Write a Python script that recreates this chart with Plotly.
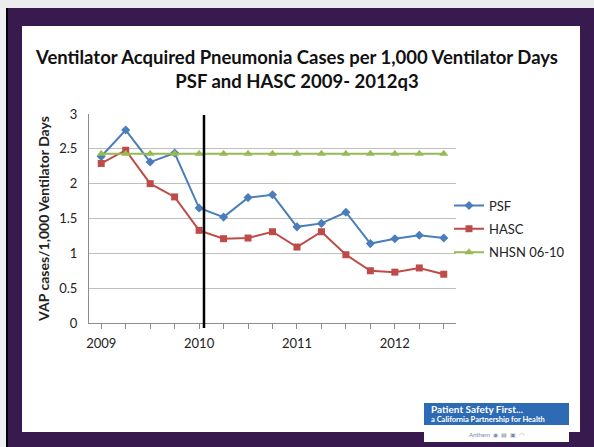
import plotly.graph_objects as go

# quarters 2009q1 .. 2012q3
quarters = list(range(15))
year_ticks = [0, 4, 8, 12]
year_labels = ["2009", "2010", "2011", "2012"]

psf = [2.39, 2.77, 2.31, 2.44, 1.65, 1.52, 1.80, 1.84, 1.38, 1.43, 1.59, 1.14, 1.21, 1.26, 1.22]
hasc = [2.29, 2.48, 2.00, 1.81, 1.33, 1.21, 1.22, 1.31, 1.09, 1.31, 0.98, 0.75, 0.73, 0.79, 0.70]
nhsn = [2.43] * 15

intervention_x = 4.2

PURPLE = "#381a4f"
FONT = "Lato, Carlito, Calibri, sans-serif"

# plot area in pixels: x 89..456, y 114..323
L, R, T, B = 89, 456, 114, 323


def px(x):
    return (x - L) / (R - L)


def py(y):
    return (B - y) / (B - T)


fig = go.Figure()
fig.add_trace(go.Scatter(x=quarters, y=psf, name="PSF", mode="lines+markers", legendgroup="a",
                         line=dict(color="#4a7ebb", width=2),
                         marker=dict(symbol="diamond", size=7, color="#4a7ebb")))
fig.add_trace(go.Scatter(x=quarters, y=hasc, name="HASC", mode="lines+markers", legendgroup="b",
                         line=dict(color="#be4b48", width=2),
                         marker=dict(symbol="square", size=7, color="#be4b48")))
fig.add_trace(go.Scatter(x=quarters, y=nhsn, name="NHSN 06-10", mode="lines+markers", legendgroup="c",
                         line=dict(color="#98b954", width=2),
                         marker=dict(symbol="triangle-up", size=8, color="#98b954")))

shapes = [
    # slide frame
    dict(type="rect", xref="paper", yref="paper", layer="below",
         x0=px(0), x1=px(594), y0=py(8), y1=py(0),
         fillcolor="#ececec", line=dict(width=0)),
    dict(type="rect", xref="paper", yref="paper", layer="below",
         x0=px(22), x1=px(580), y0=py(432), y1=py(26),
         fillcolor="white", line=dict(width=0)),
    dict(type="rect", xref="paper", yref="paper", layer="below",
         x0=px(0), x1=px(6), y0=py(447), y1=py(8),
         fillcolor="#f0f0f0", line=dict(width=0)),
    dict(type="line", xref="paper", yref="paper", layer="below",
         x0=px(7), x1=px(7), y0=py(447), y1=py(8),
         line=dict(color="black", width=2)),
    # logo
    dict(type="rect", xref="paper", yref="paper",
         x0=px(424), x1=px(569), y0=py(425), y1=py(403),
         fillcolor="#2e6bb5", line=dict(width=0)),
    dict(type="rect", xref="paper", yref="paper",
         x0=px(424), x1=px(569), y0=py(442), y1=py(425),
         fillcolor="white", line=dict(width=0)),
    # intervention line
    dict(type="line", xref="x", yref="paper", x0=intervention_x, x1=intervention_x,
         y0=py(328), y1=py(115), line=dict(color="black", width=2.5)),
]

annotations = [
    dict(text="Patient Safety First...", xref="paper", yref="paper",
         x=px(429), y=py(409), xanchor="left", yanchor="middle",
         showarrow=False, font=dict(family=FONT, size=10, color="white", weight="bold")),
    dict(text="a California Partnership for Health", xref="paper", yref="paper",
         x=px(429), y=py(419), xanchor="left", yanchor="middle",
         showarrow=False, font=dict(family=FONT, size=7.5, color="white", weight="bold")),
    dict(text="Anthem  ◉  ▤  ▣  ◠", xref="paper", yref="paper",
         x=px(496), y=py(434), xanchor="center", yanchor="middle",
         showarrow=False, font=dict(family=FONT, size=6, color="#7a8aa8")),
]

fig.update_layout(
    width=594, height=447,
    margin=dict(l=L, r=594 - R, t=T, b=447 - B),
    paper_bgcolor=PURPLE, plot_bgcolor="white",
    font=dict(family=FONT, size=13, color="#222222"),
    title=dict(text="<b>Ventilator Acquired Pneumonia Cases per 1,000 Ventilator Days<br>PSF and HASC 2009- 2012q3</b>",
               x=0.5, xanchor="center", y=1 - 64 / 447, yanchor="middle",
               font=dict(family=FONT, size=18.5, color="#111111")),
    shapes=shapes, annotations=annotations,
    legend=dict(x=px(449), y=py(229), xanchor="left", yanchor="middle",
                bgcolor="rgba(0,0,0,0)", font=dict(size=13, color="#222222"),
                tracegroupgap=3.5),
    showlegend=True,
)
fig.update_xaxes(range=[-0.5, 14.5], tickvals=year_ticks, ticktext=year_labels,
                 showgrid=False, showline=True, linecolor="#8c8c8c", linewidth=1,
                 ticks="", zeroline=False, tickfont=dict(size=13), ticklabelstandoff=8,
                 minor=dict(dtick=1, tick0=0, ticks="outside", ticklen=5, tickcolor="#8c8c8c", showgrid=False))
fig.update_yaxes(range=[0, 3], dtick=0.5, showgrid=True, gridcolor="#bfbfbf", gridwidth=1,
                 showline=True, linecolor="#8c8c8c", linewidth=1, zeroline=False,
                 tickfont=dict(size=13), ticks="", ticklabelstandoff=8,
                 title=dict(text="<b>VAP cases/1,000 Ventilator Days</b>", font=dict(size=14), standoff=6))

fig.write_html("out.html", config={"displayModeBar": False},
               post_script="document.body.style.margin='0';")
